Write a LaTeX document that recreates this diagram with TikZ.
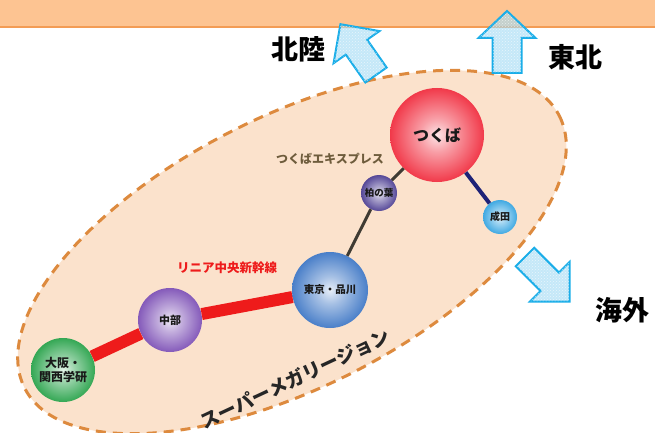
\documentclass[tikz,border=0pt]{standalone}
\usepackage{fontspec}
\newfontfamily\jp{Noto Sans CJK JP}
\usepackage{tikz}
\usetikzlibrary{patterns}
\definecolor{Band}{HTML}{FDC492}
\definecolor{BandLine}{HTML}{F39C55}
\definecolor{Region}{HTML}{FBE2CC}
\definecolor{RegionDash}{HTML}{DD8A3E}
\definecolor{ArrowLine}{HTML}{19ADE8}
\definecolor{ArrowFill}{HTML}{9ED8F4}
\definecolor{Linear}{HTML}{EE1B1B}
\definecolor{Express}{HTML}{3F3B33}
\definecolor{Airport}{HTML}{1E2277}
\definecolor{ExpressText}{HTML}{6E5C3C}
\definecolor{TsukubaRed}{HTML}{F0283A}
\definecolor{TokyoBlue}{HTML}{3A74C4}
\definecolor{ChubuPurple}{HTML}{7A4CB4}
\definecolor{OsakaGreen}{HTML}{23A046}
\definecolor{KashiwaIndigo}{HTML}{47388F}
\definecolor{NaritaBlue}{HTML}{30A2E0}
\colorlet{SphereCol}{red}
\pgfdeclareradialshading[SphereCol]{sphere}{\pgfpoint{0bp}{0bp}}{color(0bp)=(SphereCol!12!white); color(9bp)=(SphereCol!45!white); color(26bp)=(SphereCol!95!white); color(44bp)=(SphereCol); color(50bp)=(SphereCol!78!black)}

\begin{document}
\begin{tikzpicture}[
  x=1pt,y=-1pt,
  stn/.style={circle,inner sep=0pt,shade,shading=sphere,align=center,text=black!90},
  stncol/.code={\colorlet{SphereCol}{#1}},
  linear/.style={line width=12pt,draw=Linear},
  express/.style={line width=3pt,draw=Express},
  airport/.style={line width=4pt,draw=Airport},
  region/.style={fill=Region,draw=RegionDash,line width=3pt,dash pattern=on 10pt off 7pt},
  dirarrow/.style={draw=ArrowLine,line width=2pt,fill=ArrowFill,fill opacity=0.6,miter limit=20,postaction={pattern=crosshatch dots,pattern color=white}},
  dirlabel/.style={font=\jp\bfseries\fontsize{27}{27}\selectfont}
]
  \useasboundingbox (0,0) rectangle (655,433);
  \fill[Band] (0,0) rectangle (655,26);
  \draw[BandLine,line width=2.5pt] (0,27) -- (655,27);
  \draw[region,rotate around={27:(292,252)}] (292,252) ellipse [x radius=300,y radius=135];

  \filldraw[dirarrow,shift={(376,75)},rotate=125] (0,-13) -- (34,-13) -- (34,-28) -- (62,0) -- (34,28) -- (34,13) -- (0,13) -- cycle;
  \filldraw[dirarrow,shift={(507,73)},rotate=90] (0,-14.5) -- (35,-14.5) -- (35,-28.5) -- (62,0) -- (35,28.5) -- (35,14.5) -- (0,14.5) -- cycle;
  \filldraw[dirarrow,shift={(525,257)},rotate=-45] (0,-13) -- (35,-13) -- (35,-28) -- (63,0) -- (35,28) -- (35,13) -- (0,13) -- cycle;
  \node[dirlabel] (hokuriku) at (298,49) {北陸};
  \node[dirlabel] (tohoku) at (575,57) {東北};
  \node[dirlabel] (kaigai) at (622,310) {海外};

  \node[font=\jp\bfseries\fontsize{12}{12}\selectfont,text=ExpressText] (txlabel) at (330,159) {つくばエキスプレス};
  \node[font=\jp\bfseries\fontsize{12.5}{12.5}\selectfont,text=Linear] (linearlabel) at (227,268) {リニア中央新幹線};
  \node[rotate=25,inner sep=0pt,font=\jp\bfseries\fontsize{19}{19}\selectfont,text=black!85] (megaregion) at (295,379) {スーパーメガリージョン};

  \node[stn,stncol=TsukubaRed,minimum size=94pt,font=\jp\bfseries\fontsize{16}{16}\selectfont] (tsukuba) at (437,135) {つくば};
  \node[stn,stncol=KashiwaIndigo,minimum size=36pt,font=\jp\bfseries\fontsize{9.5}{9.5}\selectfont] (kashiwa) at (379,193) {柏の葉};
  \node[stn,stncol=NaritaBlue,minimum size=34pt,font=\jp\bfseries\fontsize{10}{10}\selectfont] (narita) at (500,217) {成田};
  \node[stn,stncol=TokyoBlue,minimum size=76pt,font=\jp\bfseries\fontsize{10.5}{10.5}\selectfont] (tokyo) at (330,290) {東京・品川};
  \node[stn,stncol=ChubuPurple,minimum size=64pt,font=\jp\bfseries\fontsize{11}{11}\selectfont] (chubu) at (170,320) {中部};
  \node[stn,stncol=OsakaGreen,minimum size=64pt,font=\jp\bfseries\fontsize{12}{14}\selectfont] (osaka) at (63,370) {大阪・\\関西学研};

  \draw[linear] (osaka) -- (chubu);
  \draw[linear] (chubu) -- (tokyo);
  \draw[express] (tokyo) -- (kashiwa);
  \draw[express] (kashiwa) -- (tsukuba);
  \draw[airport] (tsukuba) -- (narita);
\end{tikzpicture}
\end{document}
